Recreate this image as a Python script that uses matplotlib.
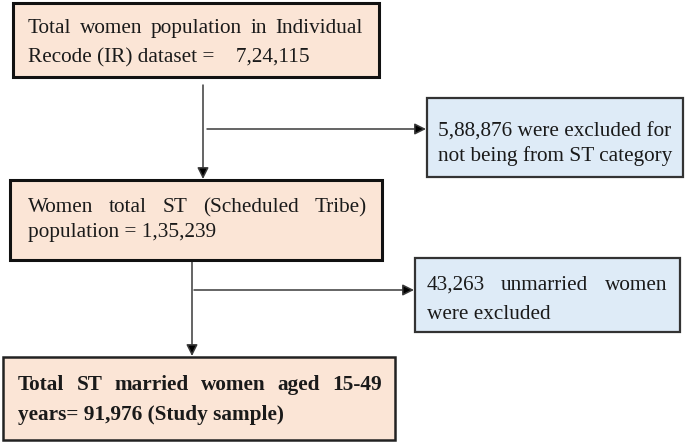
import matplotlib
matplotlib.use("Agg")
import matplotlib.pyplot as plt
from matplotlib.patches import Rectangle

# flowchart content
total_ir = "7,24,115"
excluded_non_st = "5,88,876"
total_st = "1,35,239"
excluded_unmarried = "43,263"
study_sample = "91,976"

box1_lines = ["Total women population in Individual",
              "Recode (IR) dataset =    " + total_ir]
box2_lines = [excluded_non_st + " were excluded for",
              "not being from ST category"]
box3_lines = ["Women total ST (Scheduled Tribe)",
              "population = " + total_st]
box4_lines = [excluded_unmarried + " unmarried women",
              "were excluded"]
box5_lines = ["Total ST married women aged 15-49",
              "years= " + study_sample + " (Study sample)"]

PEACH = "#fbe5d6"
BLUE = "#deebf7"
TXT = "#1a1a1a"
FONT = "Liberation Serif"
FS = 15.3

fig = plt.figure(figsize=(6.85, 4.45), dpi=100)
ax = fig.add_axes([0, 0, 1, 1])
ax.set_xlim(0, 685)
ax.set_ylim(445, 0)
ax.axis("off")
renderer = fig.canvas.get_renderer()


def box(x0, y0, x1, y1, fc, lw, ec):
    ax.add_patch(Rectangle((x0, y0), x1 - x0, y1 - y0, fc=fc, ec=ec, lw=lw, zorder=2))


def put(x, y, s, ha="left", weight="normal"):
    return ax.text(x, y, s, ha=ha, va="baseline", fontsize=FS, family=FONT,
                   color=TXT, weight=weight, zorder=3)


def justified(x0, x1, y, s, weight="normal"):
    # spread the words so the line fills x0..x1
    words = s.split()
    texts = [put(0, y, w, weight=weight) for w in words]
    widths = [t.get_window_extent(renderer).width for t in texts]
    gap = (x1 - x0 - sum(widths)) / (len(words) - 1)
    x = x0
    for t, w in zip(texts, widths):
        t.set_x(x)
        x += w + gap


def arrow(x0, y0, x1, y1):
    ax.annotate("", xy=(x1, y1), xytext=(x0, y0),
                arrowprops=dict(arrowstyle="-|>", color="#3a3a3a", lw=1.1,
                                mutation_scale=17, shrinkA=0, shrinkB=0,
                                fc="black"), zorder=1)


# connectors
arrow(203, 85, 203, 179)
arrow(207, 129, 426, 129)
arrow(192, 245, 192, 356)
arrow(194, 290, 414, 290)

# boxes
box(13, 3, 379, 77, PEACH, 2.2, "#111111")
box(427, 98, 683, 177, BLUE, 1.6, "#333333")
box(10, 180, 382, 260, PEACH, 2.2, "#111111")
box(415, 258, 680, 332, BLUE, 1.6, "#333333")
box(3, 357, 395, 440, PEACH, 1.8, "#222222")

# box texts
justified(28, 363, 33, box1_lines[0])
put(28, 62, box1_lines[1])

put(555, 137, box2_lines[0], ha="center")
put(555, 161, box2_lines[1], ha="center")

justified(28, 367, 212, box3_lines[0])
put(28, 237, box3_lines[1])

justified(427, 667, 290, box4_lines[0])
put(427, 319, box4_lines[1])

justified(18, 382, 390, box5_lines[0], weight="bold")
put(18, 420, box5_lines[1], weight="bold")

fig.savefig("out.png", dpi=100, facecolor="white")
